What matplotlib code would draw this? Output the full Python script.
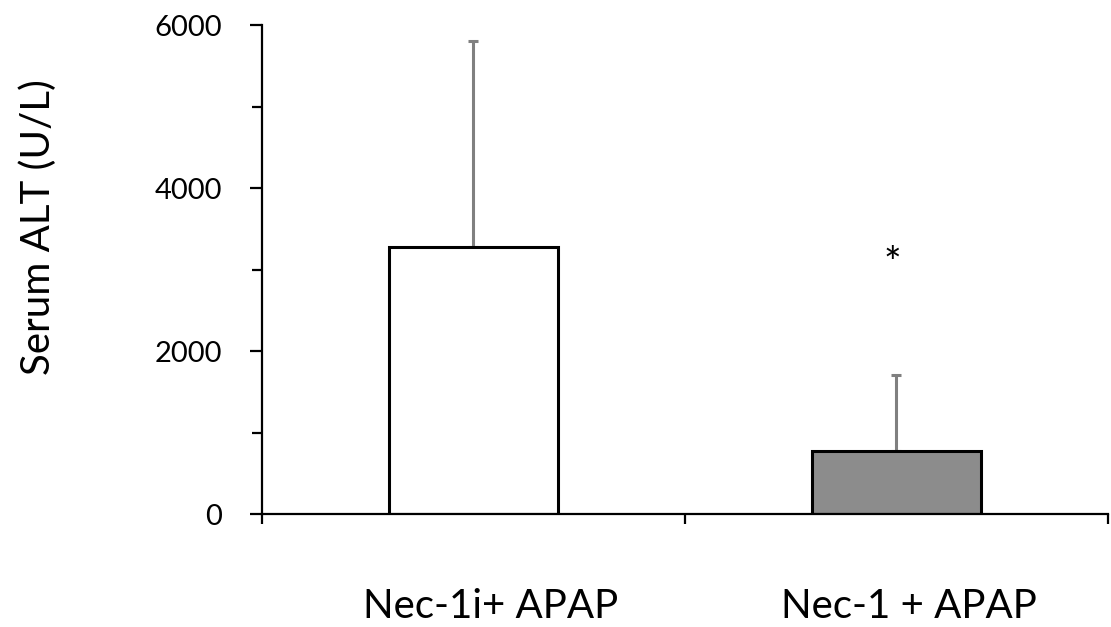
import matplotlib
matplotlib.use("Agg")
import matplotlib.pyplot as plt
from matplotlib.ticker import FixedLocator

plt.rcParams['font.family'] = ['Lato', 'DejaVu Sans']

groups = ["Nec-1i+ APAP", "Nec-1 + APAP"]
alt_mean = [3280, 770]
alt_err = [2520, 940]
bar_colors = ["white", "#8c8c8c"]
y_ticks = [0, 2000, 4000, 6000]
y_minor = [1000, 3000, 5000]

fig = plt.figure(figsize=(11.11, 6.27), dpi=100)
ax = fig.add_axes([0.2358, 0.1802, 0.7615, 0.7799])

pos = list(range(len(groups)))
ax.bar(pos, alt_mean, width=0.4, color=bar_colors, edgecolor="black", linewidth=2.2, zorder=2)
ax.errorbar(pos, alt_mean, yerr=[[0, 0], alt_err], fmt="none", ecolor="#808080",
            elinewidth=2.2, capsize=3.5, capthick=2.2, zorder=1)

# significance marker over second group
ax.text(pos[1] - 0.01, 3050, "*", ha="center", va="center", fontsize=30)

ax.set_xlim(-0.5, 1.5)
ax.set_ylim(0, 6000)

for s in ["top", "right"]:
    ax.spines[s].set_visible(False)
ax.spines["left"].set_linewidth(1.6)
ax.spines["bottom"].set_linewidth(1.6)

ax.set_yticks(y_ticks)
ax.yaxis.set_minor_locator(FixedLocator(y_minor))
ax.tick_params(axis="y", which="major", length=9, width=1.6, pad=20, labelsize=21)
ax.tick_params(axis="y", which="minor", length=7, width=1.6)
for lbl in ax.get_yticklabels():
    lbl.set_va("center_baseline")

# category boundaries get the ticks, labels sit well below
ax.set_xticks([-0.5, 0.5, 1.5])
ax.set_xticklabels(["", "", ""])
ax.tick_params(axis="x", which="major", length=7, width=1.6)
ax.xaxis.set_minor_locator(FixedLocator([0.04, 1.03]))
ax.set_xticklabels(groups, minor=True)
ax.tick_params(axis="x", which="minor", length=0, pad=53, labelsize=29)

ax.set_ylabel("Serum ALT (U/L)", fontsize=29)
ax.yaxis.set_label_coords(-0.242, 0.587)

fig.savefig("out.png", dpi=100)
